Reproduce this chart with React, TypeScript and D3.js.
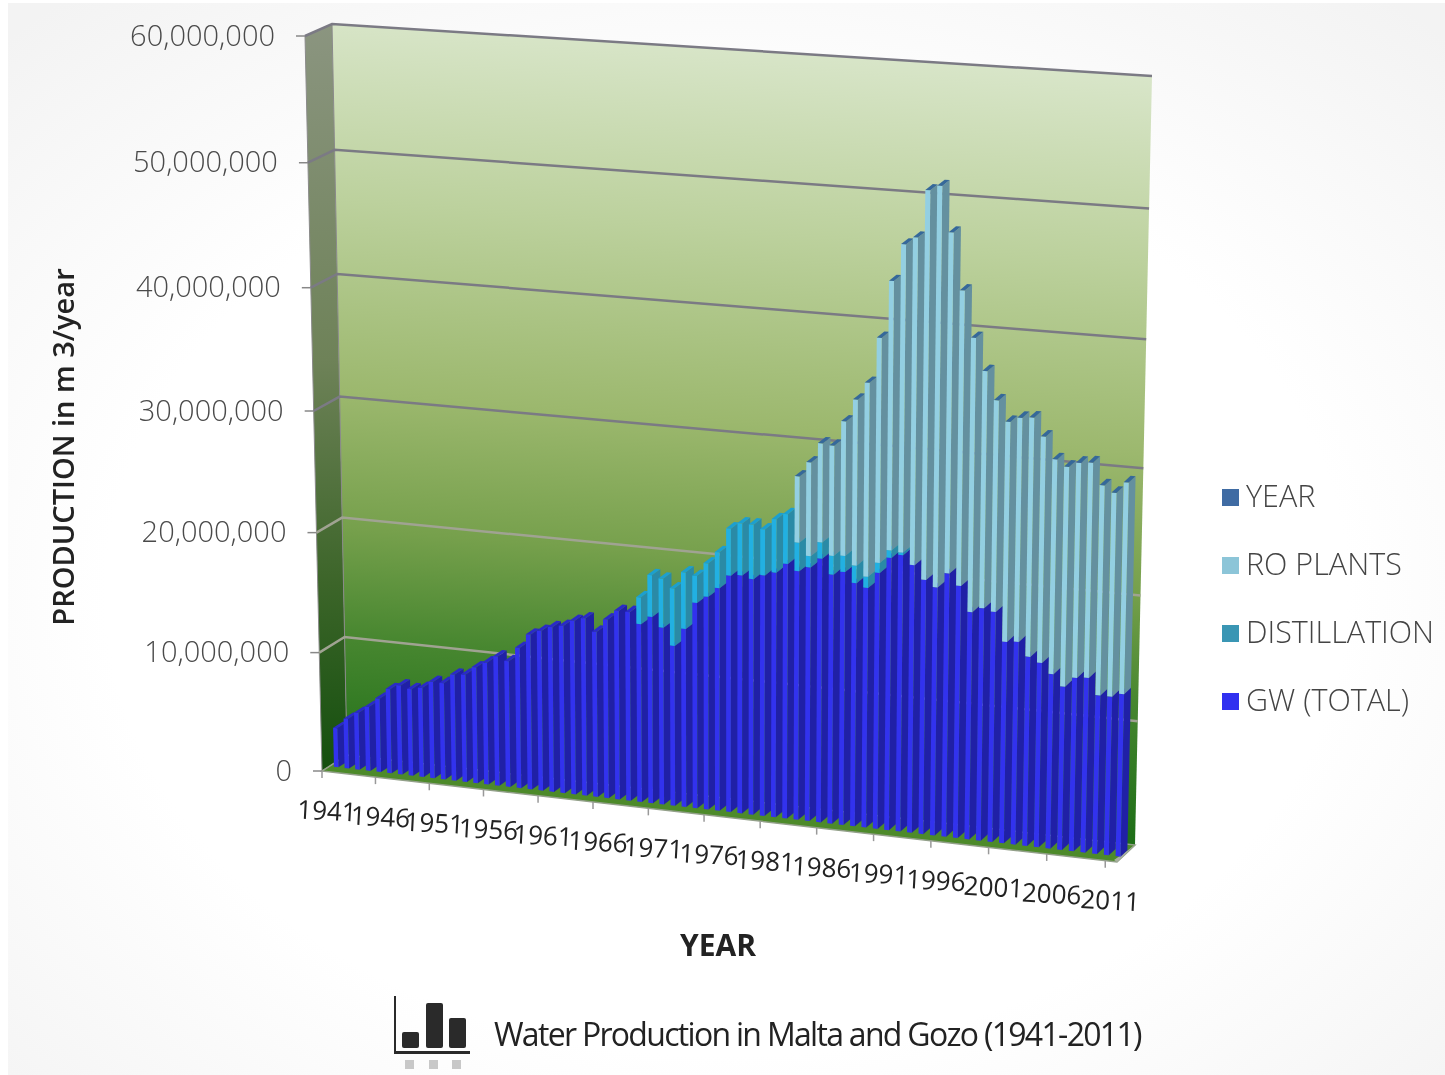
import * as d3 from 'd3'

const years = d3.range(1941, 2012)
const tickYears = years.filter(y => (y - 1941) % 5 === 0)
const yTicks = [0, 10, 20, 30, 40, 50, 60]

// million m3 per year
const gw = [
  3.3, 4.2, 4.8, 5.4, 6.2, 7.1, 7.5, 7.3, 7.5, 8.1, 8.1, 8.9, 9.0, 9.7, 10.2, 10.8, 10.5, 11.7,
  12.9, 13.3, 13.7, 13.9, 14.4, 14.7, 13.7, 14.8, 15.6, 15.6, 14.7, 15.4, 14.6, 13.2, 14.7, 16.9,
  17.5, 18.3, 19.4, 19.5, 19.3, 19.7, 20.0, 20.8, 20.3, 20.7, 21.5, 20.3, 20.6, 19.8, 19.5, 20.8,
  22.1, 22.4, 21.7, 20.6, 20.1, 21.3, 20.4, 18.4, 18.8, 18.6, 16.3, 16.4, 15.3, 14.9, 14.1, 13.2,
  14.0, 14.1, 12.8, 12.8, 13.1,
]
const distillation = [
  0, 0, 0, 0, 0, 0, 0, 0, 0, 0, 0, 0, 0, 0, 0, 0, 0, 0, 0, 0, 0, 0, 0, 0, 0, 0, 0, 0,
  2.2, 3.4, 4.0, 4.7, 4.6, 2.2, 2.7, 2.9, 3.8, 4.2, 4.4, 3.7, 4.3, 4.0, 2.3, 0.9, 1.3, 1.5, 1.3,
  1.4, 0.9, 0.8, 0.6, 0.2, 0, 0, 0, 0, 0, 0, 0, 0, 0, 0, 0, 0, 0, 0, 0, 0, 0, 0, 0,
]
const roPlants = [
  0, 0, 0, 0, 0, 0, 0, 0, 0, 0, 0, 0, 0, 0, 0, 0, 0, 0, 0, 0, 0, 0, 0, 0, 0, 0, 0, 0, 0, 0, 0, 0,
  0, 0, 0, 0, 0, 0, 0, 0, 0, 0,
  5.3, 7.5, 7.9, 8.8, 10.7, 13.2, 15.4, 17.8, 21.2, 24.2, 25.7, 30.5, 31.4, 26.7, 23.2, 21.6, 18.7,
  16.7, 17.4, 17.7, 18.9, 17.9, 17.0, 17.4, 17.0, 17.0, 16.6, 16.1, 16.7,
]

const legend = [
  { name: 'YEAR', color: '#3f6ba3', y: 495 },
  { name: 'RO PLANTS', color: '#8cc5d8', y: 563 },
  { name: 'DISTILLATION', color: '#3a96b4', y: 631 },
  { name: 'GW (TOTAL)', color: '#3030f0', y: 699 },
]

const seriesColors = [
  { front: '#3232ee', side: '#2020a6', top: '#2a2ac8' },
  { front: '#22b0e2', side: '#2a8aa6', top: '#1c9fd0' },
  { front: '#93cfe2', side: '#64909f', top: '#35689a' },
]

type Pt = [number, number]

// projective map of the unit square onto a quad (p00, p10, p11, p01)
function quadMap(p0: Pt, p1: Pt, p2: Pt, p3: Pt) {
  const dx1 = p1[0] - p2[0], dx2 = p3[0] - p2[0], sx = p0[0] - p1[0] + p2[0] - p3[0]
  const dy1 = p1[1] - p2[1], dy2 = p3[1] - p2[1], sy = p0[1] - p1[1] + p2[1] - p3[1]
  const den = dx1 * dy2 - dx2 * dy1
  const g = (sx * dy2 - dx2 * sy) / den
  const h = (dx1 * sy - sx * dy1) / den
  const a = p1[0] - p0[0] + g * p1[0], b = p3[0] - p0[0] + h * p3[0]
  const d = p1[1] - p0[1] + g * p1[1], e = p3[1] - p0[1] + h * p3[1]
  return (u: number, v: number): Pt => {
    const w = g * u + h * v + 1
    return [(a * u + b * v + p0[0]) / w, (d * u + e * v + p0[1]) / w]
  }
}

const frontPlane = quadMap([322, 771], [1117, 862], [1134, 92], [305, 36])
const backPlane = quadMap([347, 755], [1135, 845], [1152, 76], [332, 24])

const project = (u: number, v: number, depth: number): Pt => {
  const f = frontPlane(u, v)
  const b = backPlane(u, v)
  return [f[0] + (b[0] - f[0]) * depth, f[1] + (b[1] - f[1]) * depth]
}

const xBand = d3.scaleBand<number>().domain(years).range([0, 1])
const yValue = d3.scaleLinear().domain([0, 60]).range([0, 1])
const pathOf = d3.line()

const barDepth = [0.3, 0.68]
const barOffset = 0.42
const barWidth = 0.42

function App() {
  const step = xBand.step()
  const bars: { d: string; fill: string }[] = []
  years.forEach((year, i) => {
    const u0 = (xBand(year) || 0) + step * barOffset
    const u1 = u0 + step * barWidth
    let base = 0
    ;[gw[i], distillation[i], roPlants[i]].forEach((val, s) => {
      if (val <= 0) return
      const v0 = yValue(base)
      const v1 = yValue(base + val)
      base += val
      const c = seriesColors[s]
      const [df, db] = barDepth
      bars.push({ fill: c.side, d: pathOf([project(u1, v0, df), project(u1, v0, db), project(u1, v1, db), project(u1, v1, df)]) + 'Z' })
      bars.push({ fill: c.front, d: pathOf([project(u0, v0, df), project(u1, v0, df), project(u1, v1, df), project(u0, v1, df)]) + 'Z' })
      bars.push({ fill: c.top, d: pathOf([project(u0, v1, df), project(u1, v1, df), project(u1, v1, db), project(u0, v1, db)]) + 'Z' })
    })
  })

  const wall = pathOf([project(0, 0, 1), project(1, 0, 1), project(1, 1, 1), project(0, 1, 1)]) + 'Z'
  const side = pathOf([project(0, 0, 0), project(0, 0, 1), project(0, 1, 1), project(0, 1, 0)]) + 'Z'
  const floor = pathOf([project(0, 0, 0), project(1, 0, 0), project(1, 0, 1), project(0, 0, 1)]) + 'Z'
  const corner = pathOf([project(1, 0, 0), project(1, 0, 1), [1131, 848], [1114, 860]]) + 'Z'

  return (
    <svg
      width={1445}
      height={1075}
      style={{ position: 'absolute', left: 0, top: 0, display: 'block', filter: 'blur(0.5px)' }}
      fontFamily="'Open Sans', sans-serif"
    >
      <defs>
        <radialGradient id="page" cx="50%" cy="55%" r="72%">
          <stop offset="0.6" stopColor="#ffffff" />
          <stop offset="1" stopColor="#f3f3f3" />
        </radialGradient>
        <linearGradient id="wallFill" gradientUnits="userSpaceOnUse" x1={745} y1={40} x2={685} y2={800}>
          <stop offset="0" stopColor="#d9e6ca" />
          <stop offset="0.25" stopColor="#bcd19d" />
          <stop offset="0.5" stopColor="#9cb86e" />
          <stop offset="0.68" stopColor="#76a04c" />
          <stop offset="0.82" stopColor="#488730" />
          <stop offset="1" stopColor="#1f6f18" />
        </linearGradient>
        <linearGradient id="sideFill" x1="0" y1="0" x2="0" y2="1">
          <stop offset="0" stopColor="#8b9580" />
          <stop offset="0.45" stopColor="#6e8258" />
          <stop offset="0.75" stopColor="#3c6529" />
          <stop offset="1" stopColor="#144f0e" />
        </linearGradient>
      </defs>

      <rect width={1445} height={1075} fill="#ffffff" />
      <rect x={8} y={3} width={1437} height={1072} fill="url(#page)" />

      <path d={wall} fill="url(#wallFill)" />
      <path d={side} fill="url(#sideFill)" stroke="#8a8a8a" strokeWidth={1} />
      <path d={floor} fill="#4d8a2a" stroke="#93a08a" strokeWidth={1.5} />
      <path d={corner} fill="#a9b0a0" />

      {yTicks.map(t => {
        const v = yValue(t)
        const a = project(0, v, 0)
        const b = project(0, v, 1)
        const c = project(1, v, 1)
        const color = t >= 30 ? '#7b7a84' : '#a0a392'
        return (
          <g key={t}>
            <line x1={a[0] - 9} y1={a[1]} x2={a[0]} y2={a[1]} stroke="#888" strokeWidth={1.5} />
            {t > 0 && <path d={pathOf([a, b, c]) || ''} fill="none" stroke={color} strokeWidth={2.5} />}
            <text x={a[0] - 30} y={a[1] - 2} textAnchor="end" dominantBaseline="central" fontSize={29} fontWeight={300} fill="#4a4a4a">
              {t === 0 ? '0' : d3.format(',')(t * 1e6)}
            </text>
          </g>
        )
      })}

      {bars.map((b, i) => (
        <path key={i} d={b.d} fill={b.fill} />
      ))}

      {tickYears.map(year => {
        const p = project(xBand(year) || 0, 0, 0)
        return (
          <g key={year}>
            <line x1={p[0]} y1={p[1]} x2={p[0]} y2={p[1] + 7} stroke="#999" strokeWidth={1.5} />
            <text
              x={p[0] + 5}
              y={p[1] + 39}
              textAnchor="middle"
              dominantBaseline="central"
              fontSize={26}
              fill="#222"
              transform={`rotate(3 ${p[0] + 5} ${p[1] + 39})`}
            >
              {year}
            </text>
          </g>
        )
      })}

      <text
        transform="translate(62 447) rotate(-90)"
        textAnchor="middle"
        dominantBaseline="central"
        fontSize={29}
        fontWeight={600}
        fill="#222"
      >
        PRODUCTION in m 3/year
      </text>
      <text x={718} y={944} textAnchor="middle" dominantBaseline="central" fontSize={30} fontWeight={700} fill="#222">
        YEAR
      </text>

      {legend.map(l => (
        <g key={l.name}>
          <rect x={1222} y={l.y - 6} width={17} height={17} fill={l.color} />
          <text x={1246} y={l.y} dominantBaseline="central" fontSize={30.5} fontWeight={300} fill="#444">
            {l.name}
          </text>
        </g>
      ))}

      {/* little chart icon next to the caption */}
      <g fill="#2a2a2a">
        <rect x={394} y={996} width={2} height={57} />
        <rect x={394} y={1051} width={76} height={3} />
        <rect x={402} y={1032} width={17} height={16} rx={2} />
        <rect x={426} y={1003} width={17} height={45} rx={2} />
        <rect x={449} y={1018} width={17} height={30} rx={2} />
      </g>
      <g fill="#c8c8c8">
        {[405, 429, 452].map(x => (
          <rect key={x} x={x} y={1060} width={9} height={9} />
        ))}
      </g>
      <text x={494} y={1033} dominantBaseline="central" fontSize={32} letterSpacing={-1.7} fill="#222">
        Water Production in Malta and Gozo (1941-2011)
      </text>
    </svg>
  )
}

export default App
